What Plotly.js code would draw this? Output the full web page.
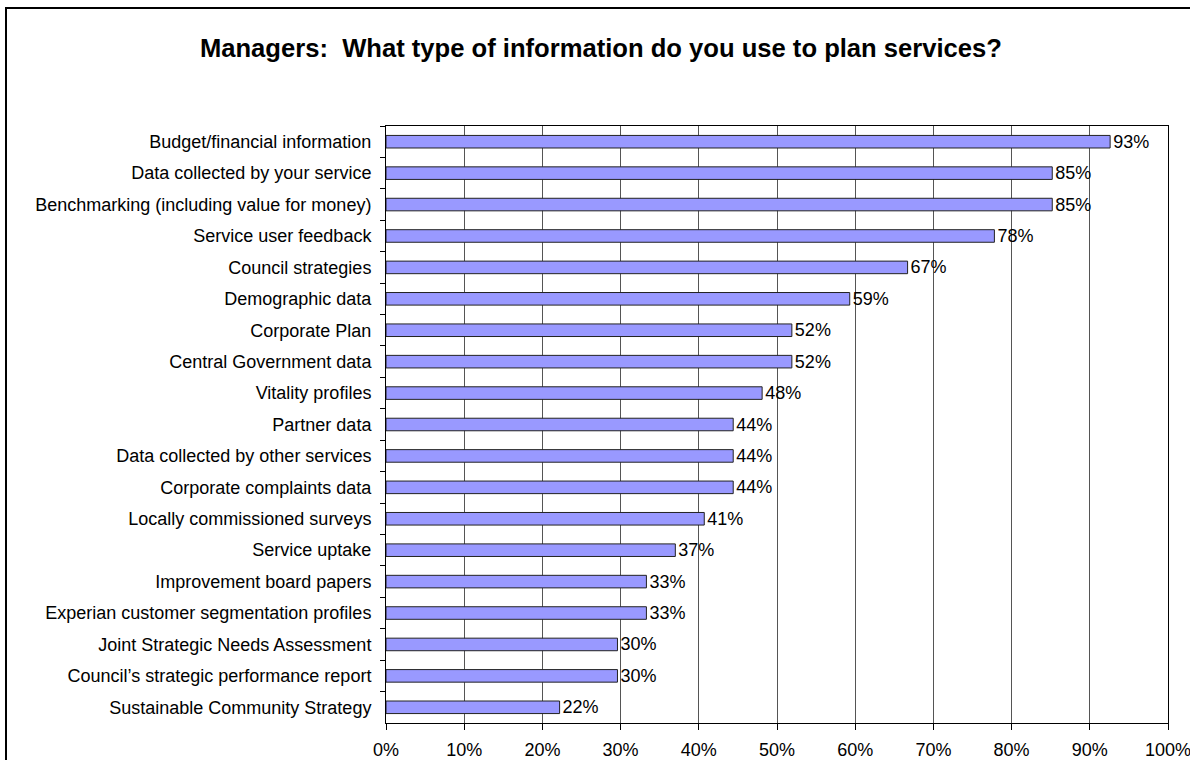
<!DOCTYPE html>
<html>
<head>
<meta charset="utf-8">
<script src="https://cdn.plot.ly/plotly-3.0.1.min.js"></script>
<style>
  html, body { margin: 0; padding: 0; width: 1190px; height: 760px; overflow: hidden; background: #fff; }
  #frame { position: absolute; left: 5px; top: 7px; width: 1400px; height: 900px; border: 2px solid #000; }
  #chart { position: absolute; left: 0; top: 0; width: 1190px; height: 760px; }
</style>
</head>
<body>
<div id="frame"></div>
<div id="chart"></div>
<script>
const categories = [
  "Budget/financial information",
  "Data collected by your service",
  "Benchmarking (including value for money)",
  "Service user feedback",
  "Council strategies",
  "Demographic data",
  "Corporate Plan",
  "Central Government data",
  "Vitality profiles",
  "Partner data",
  "Data collected by other services",
  "Corporate complaints data",
  "Locally commissioned surveys",
  "Service uptake",
  "Improvement board papers",
  "Experian customer segmentation profiles",
  "Joint Strategic Needs Assessment",
  "Council\u2019s strategic performance report",
  "Sustainable Community Strategy"
];
const values = [92.6, 85.2, 85.2, 77.8, 66.7, 59.3, 51.9, 51.9, 48.1, 44.4, 44.4, 44.4, 40.7, 37.0, 33.3, 33.3, 29.6, 29.6, 22.2];
const xTickVals = [0, 10, 20, 30, 40, 50, 60, 70, 80, 90, 100];
const xTickText = ["0%", "10%", "20%", "30%", "40%", "50%", "60%", "70%", "80%", "90%", "100%"];
const titleText = "Managers:&nbsp;&nbsp;What type of information do you use to plan services?";

const font = "Liberation Sans, Arial, sans-serif";

const trace = {
  type: "bar",
  orientation: "h",
  y: categories,
  x: values,
  marker: { color: "#9999FF", line: { color: "#222", width: 1 } },
  text: values.map(v => Math.round(v) + "%"),
  textposition: "outside",
  constraintext: "none",
  textfont: { family: font, size: 18, color: "#000" },
  cliponaxis: false,
  hoverinfo: "none"
};

const layout = {
  width: 1190,
  height: 760,
  paper_bgcolor: "rgba(0,0,0,0)",
  plot_bgcolor: "#fff",
  margin: { l: 386, r: 22, t: 126, b: 37 },
  bargap: 0.6,
  showlegend: false,
  title: {
    text: titleText,
    font: { family: font, size: 25.6, color: "#000", weight: "bold" },
    x: 0.505, xanchor: "center",
    y: 0.937, yanchor: "middle"
  },
  xaxis: {
    range: [0, 100],
    tickvals: xTickVals,
    ticktext: xTickText,
    showgrid: true,
    gridcolor: "#555",
    gridwidth: 1,
    zeroline: false,
    showline: true,
    linecolor: "#000",
    linewidth: 1,
    mirror: true,
    ticks: "outside",
    ticklen: 6,
    tickcolor: "#000",
    ticklabelstandoff: 4,
    ticklabeloverflow: "allow",
    tickfont: { family: font, size: 18, color: "#000" },
    fixedrange: true
  },
  yaxis: {
    type: "category",
    autorange: "reversed",
    tickson: "boundaries",
    showgrid: false,
    showline: true,
    linecolor: "#000",
    linewidth: 1,
    mirror: true,
    ticks: "outside",
    ticklen: 5,
    tickcolor: "#000",
    ticklabelstandoff: 10,
    tickfont: { family: font, size: 18, color: "#000" },
    fixedrange: true
  }
};

Plotly.newPlot("chart", [trace], layout, { displayModeBar: false, staticPlot: true });
</script>
</body>
</html>
